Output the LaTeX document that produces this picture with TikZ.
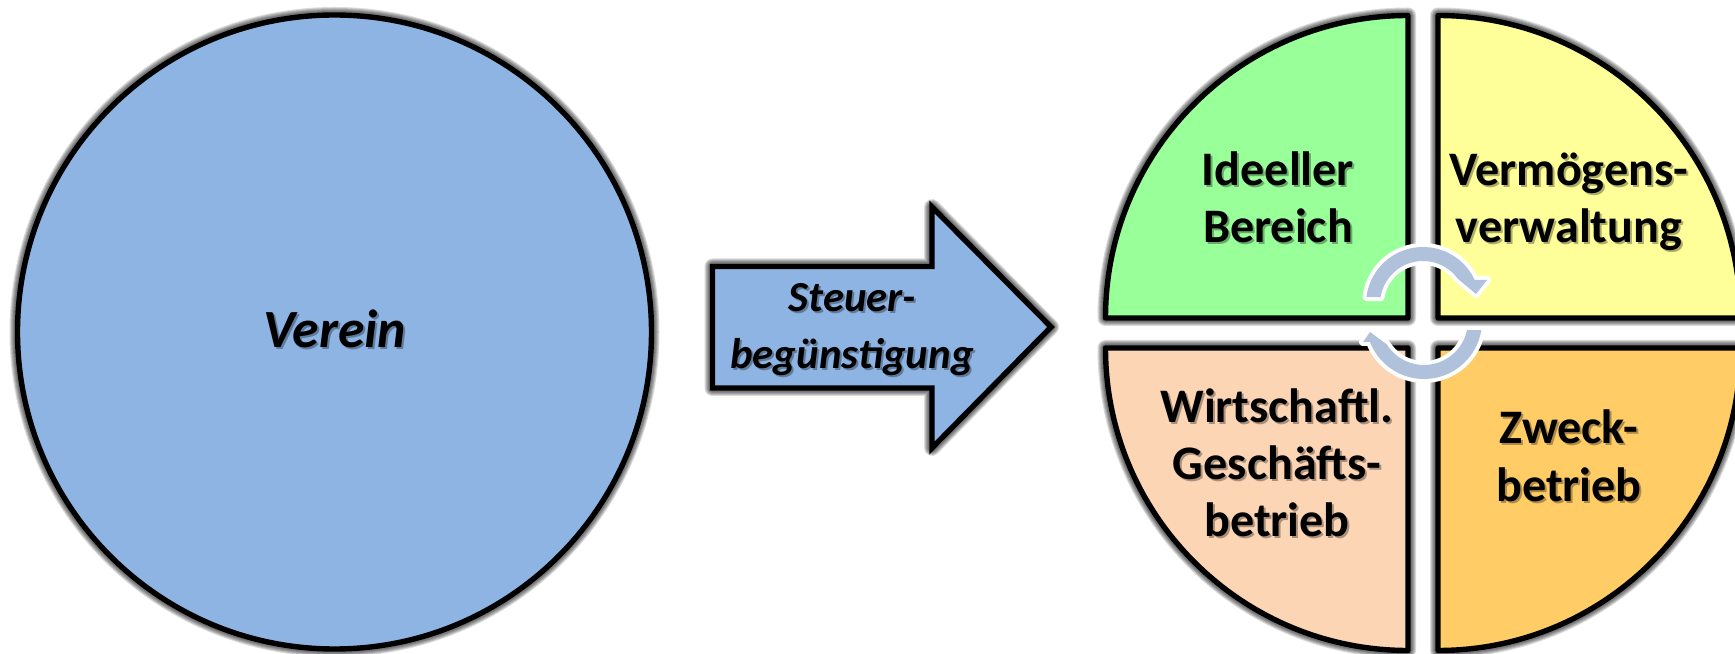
\documentclass[tikz,border=0pt]{standalone}
\usepackage{fontspec}
\setmainfont{Carlito}
\definecolor{vblue}{HTML}{8EB4E3}
\definecolor{vgreen}{HTML}{99FF99}
\definecolor{vyellow}{HTML}{FFFF99}
\definecolor{vpeach}{HTML}{FCD5B5}
\definecolor{vorange}{HTML}{FFCC66}
\definecolor{varc}{HTML}{B0C1DC}
\newcommand{\softedge}[1]{\foreach \wd in {16,14,12,10,8}{\draw[black,opacity=.14,line width=\wd*0.02cm,line join=round] #1;}}
\newcommand{\lbl}[4]{%
  \node[lbltext,#4,text=black,opacity=.32] (#1s) at ([shift={(2,-2)}]#2) {#3};
  \node[lbltext,#4] (#1) at (#2) {#3};}
\tikzset{
  x=0.02cm,y=0.02cm,
  lbltext/.style={anchor=base,align=center,inner sep=0pt,font=\bfseries\fontsize{27.4}{32.5}\selectfont},
  biglbl/.style={font=\bfseries\itshape\fontsize{30.6}{36}\selectfont},
  arrlbl/.style={font=\bfseries\itshape\fontsize{24.4}{32.5}\selectfont},
  outlined/.style={draw=black,line width=0.108cm,line join=miter},
  quarter/.style={draw=black,line width=0.108cm,line join=round},
  cycarrow/.style={fill=varc,line join=round,preaction={draw=white,line width=0.16cm,line join=round}}
}
\begin{document}
\begin{tikzpicture}
\useasboundingbox (0,0) rectangle (1735,653);
\clip (0,0) rectangle (1735,653);
\fill[white] (0,0) rectangle (1735,653);
% big circle
\softedge{(334.5,321) circle[radius=317]}
\draw[outlined,fill=vblue] (334.5,321) circle[radius=317];
% block arrow
\softedge{(712.5,386.5) -- (932,386.5) -- (932,446) -- (1051,326) -- (932,205) -- (932,265) -- (712.5,265) -- cycle}
\draw[outlined,fill=vblue] (712.5,386.5) -- (932,386.5) -- (932,446) -- (1051,326) -- (932,205) -- (932,265) -- (712.5,265) -- cycle;
% quarters
\softedge{(1408,335) -- (1105.5,335) arc[start angle=180,end angle=90,radius=302.5] -- cycle}
\softedge{(1438,335) -- (1438,637.5) arc[start angle=90,end angle=0,radius=302.5] -- cycle}
\softedge{(1408,305) -- (1105.5,305) arc[start angle=180,end angle=270,radius=302.5] -- cycle}
\softedge{(1438,305) -- (1438,2.5) arc[start angle=270,end angle=360,radius=302.5] -- cycle}
\draw[quarter,fill=vgreen] (1408,335) -- (1105.5,335) arc[start angle=180,end angle=90,radius=302.5] -- cycle;
\draw[quarter,fill=vyellow] (1438,335) -- (1438,637.5) arc[start angle=90,end angle=0,radius=302.5] -- cycle;
\draw[quarter,fill=vpeach] (1408,305) -- (1105.5,305) arc[start angle=180,end angle=270,radius=302.5] -- cycle;
\draw[quarter,fill=vorange] (1438,305) -- (1438,2.5) arc[start angle=270,end angle=360,radius=302.5] -- cycle;
% labels (last-line baseline)
\lbl{verein}{335,305}{Verein}{biglbl}
\lbl{steuer}{852,284}{Steuer-\\begünstigung}{arrlbl}
\lbl{ideell}{1278,410}{Ideeller\\Bereich}{}
\lbl{vermoeg}{1569,410}{Vermögens-\\verwaltung}{}
\lbl{wirt}{1277,116}{Wirtschaftl.\\Geschäfts-\\betrieb}{}
\lbl{zweck}{1569,152}{Zweck-\\betrieb}{}
% cycle arrows
\path[cycarrow] ([shift={(1423,349)}]173:57) arc[start angle=173,end angle=25,radius=57] -- (1487,373) -- (1476,359) -- ([shift={(1423,349)}]36:43) arc[start angle=36,end angle=171,radius=43] -- cycle;
\path[cycarrow] ([shift={(1424,332)}]-9:58) arc[start angle=-9,end angle=-159,radius=58] -- (1363,311) -- (1370,321) -- ([shift={(1424,332)}]-148:44) arc[start angle=-148,end angle=-12,radius=44] -- cycle;
\end{tikzpicture}
\end{document}
